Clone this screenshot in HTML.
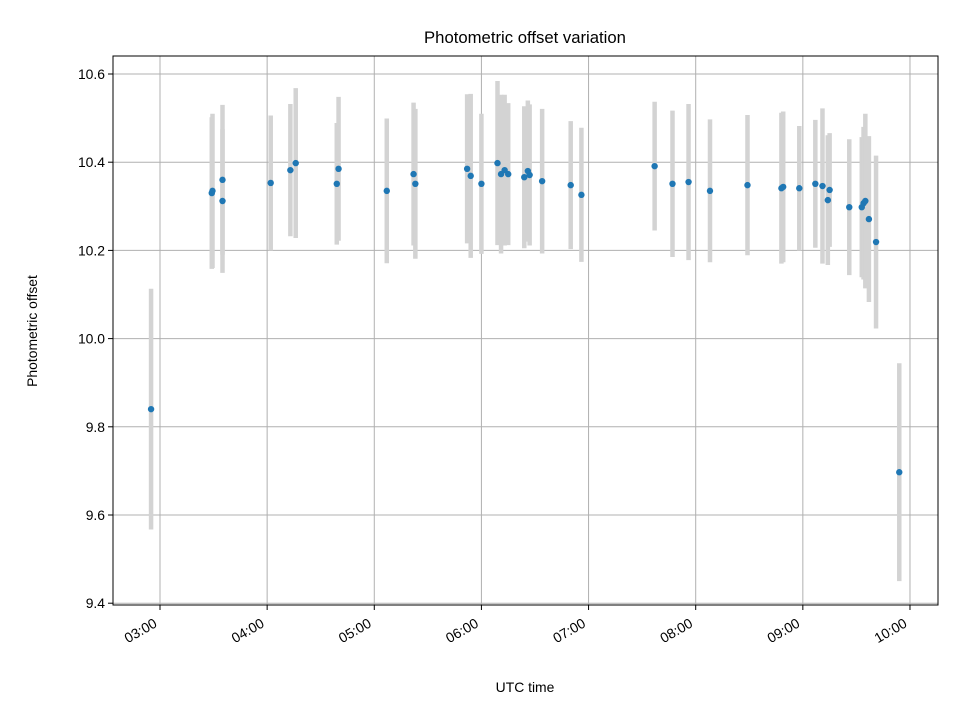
<!DOCTYPE html>
<html><head><meta charset="utf-8"><style>
body{margin:0;background:#fff;}
svg{display:block;font-family:"Liberation Sans","DejaVu Sans",sans-serif;}
</style></head><body>
<svg id="chart" width="960" height="720" viewBox="0 0 960 720">
<rect x="0" y="0" width="960" height="720" fill="#fff"/>
<g id="grid"></g><g id="errs"></g><g id="pts"></g><g id="axes"></g>
<text x="525" y="43" text-anchor="middle" font-size="16.7" fill="#000">Photometric offset variation</text>
<text x="525" y="692" text-anchor="middle" font-size="13.9" fill="#000">UTC time</text>
<text transform="translate(37,331) rotate(-90)" text-anchor="middle" font-size="13.9" fill="#000">Photometric offset</text>
</svg>
<script>
const times = ["02:55","03:29","03:29.4","03:35","03:35","04:02","04:13","04:16","04:39","04:40","05:07","05:22","05:23","05:52","05:54","06:00","06:09","06:11","06:13","06:15","06:24","06:26","06:27","06:34","06:50","06:56","07:37","07:47","07:56","08:08","08:29","08:48","08:49","08:58","09:07","09:11","09:14","09:15","09:26","09:33","09:34","09:35","09:37","09:41","09:54"];
const offsets = [9.840,10.330,10.335,10.360,10.312,10.353,10.382,10.398,10.351,10.385,10.335,10.373,10.351,10.385,10.369,10.351,10.398,10.373,10.382,10.373,10.366,10.380,10.371,10.357,10.348,10.326,10.391,10.351,10.355,10.335,10.348,10.341,10.344,10.341,10.351,10.346,10.314,10.337,10.298,10.298,10.307,10.312,10.271,10.219,9.697];
const errors = [0.273,0.172,0.175,0.170,0.163,0.153,0.150,0.170,0.138,0.163,0.164,0.162,0.170,0.169,0.186,0.159,0.186,0.180,0.171,0.161,0.161,0.160,0.160,0.164,0.145,0.152,0.146,0.166,0.177,0.162,0.159,0.171,0.171,0.141,0.145,0.176,0.147,0.129,0.154,0.159,0.173,0.198,0.188,0.196,0.247];
const xTickLabels = ["03:00","04:00","05:00","06:00","07:00","08:00","09:00","10:00"];
const yTickLabels = ["9.4","9.6","9.8","10.0","10.2","10.4","10.6"];

const NS="http://www.w3.org/2000/svg";
const L=113,R=938,T=56,B=605;
function toMin(s){const p=s.split(":");return (+p[0])*60+parseFloat(p[1]);}
function xs(m){return 160+(m-180)*107.14/60;}
function ys(v){return 74+(10.6-v)*441;}
function mk(tag,attrs,parent){const e=document.createElementNS(NS,tag);for(const k in attrs)e.setAttribute(k,attrs[k]);parent.appendChild(e);return e;}
const grid=document.getElementById('grid'),axes=document.getElementById('axes'),errs=document.getElementById('errs'),pts=document.getElementById('pts');

xTickLabels.forEach(lab=>{
  const x=xs(toMin(lab));
  const g=mk('line',{x1:x,x2:x,y1:T,y2:B,stroke:'#b0b0b0','stroke-width':1},grid);
  
  
  mk('line',{x1:x,x2:x,y1:B,y2:B+5,stroke:'#000','stroke-width':1},axes);
  const t=mk('text',{x:0,y:0,'font-size':13.9,'text-anchor':'end',transform:`translate(${x-2},${B+21}) rotate(-30)`},axes);
  t.textContent=lab;
  
  
});
yTickLabels.forEach(lab=>{
  const y=ys(parseFloat(lab));
  const g=mk('line',{x1:L,x2:R,y1:y,y2:y,stroke:'#b0b0b0','stroke-width':1},grid);
  
  
  mk('line',{x1:L-5,x2:L,y1:y,y2:y,stroke:'#000','stroke-width':1},axes);
  const t=mk('text',{x:L-8,y:y+5,'font-size':13.9,'text-anchor':'end'},axes);
  t.textContent=lab;
  
  
});
const frame=mk('rect',{x:L,y:T,width:R-L,height:B-T,fill:'none',stroke:'#000','stroke-width':1},axes);



times.forEach((tm,i)=>{
  const x=xs(toMin(tm)),v=offsets[i],e=errors[i];
  const l=mk('line',{x1:x,x2:x,y1:ys(v+e),y2:ys(v-e),stroke:'#d3d3d3','stroke-width':4.5},errs);
  
  
  const c=mk('circle',{cx:x,cy:ys(v),r:3.2,fill:'#1f77b4'},pts);
  
  
});
</script>
</body></html>
